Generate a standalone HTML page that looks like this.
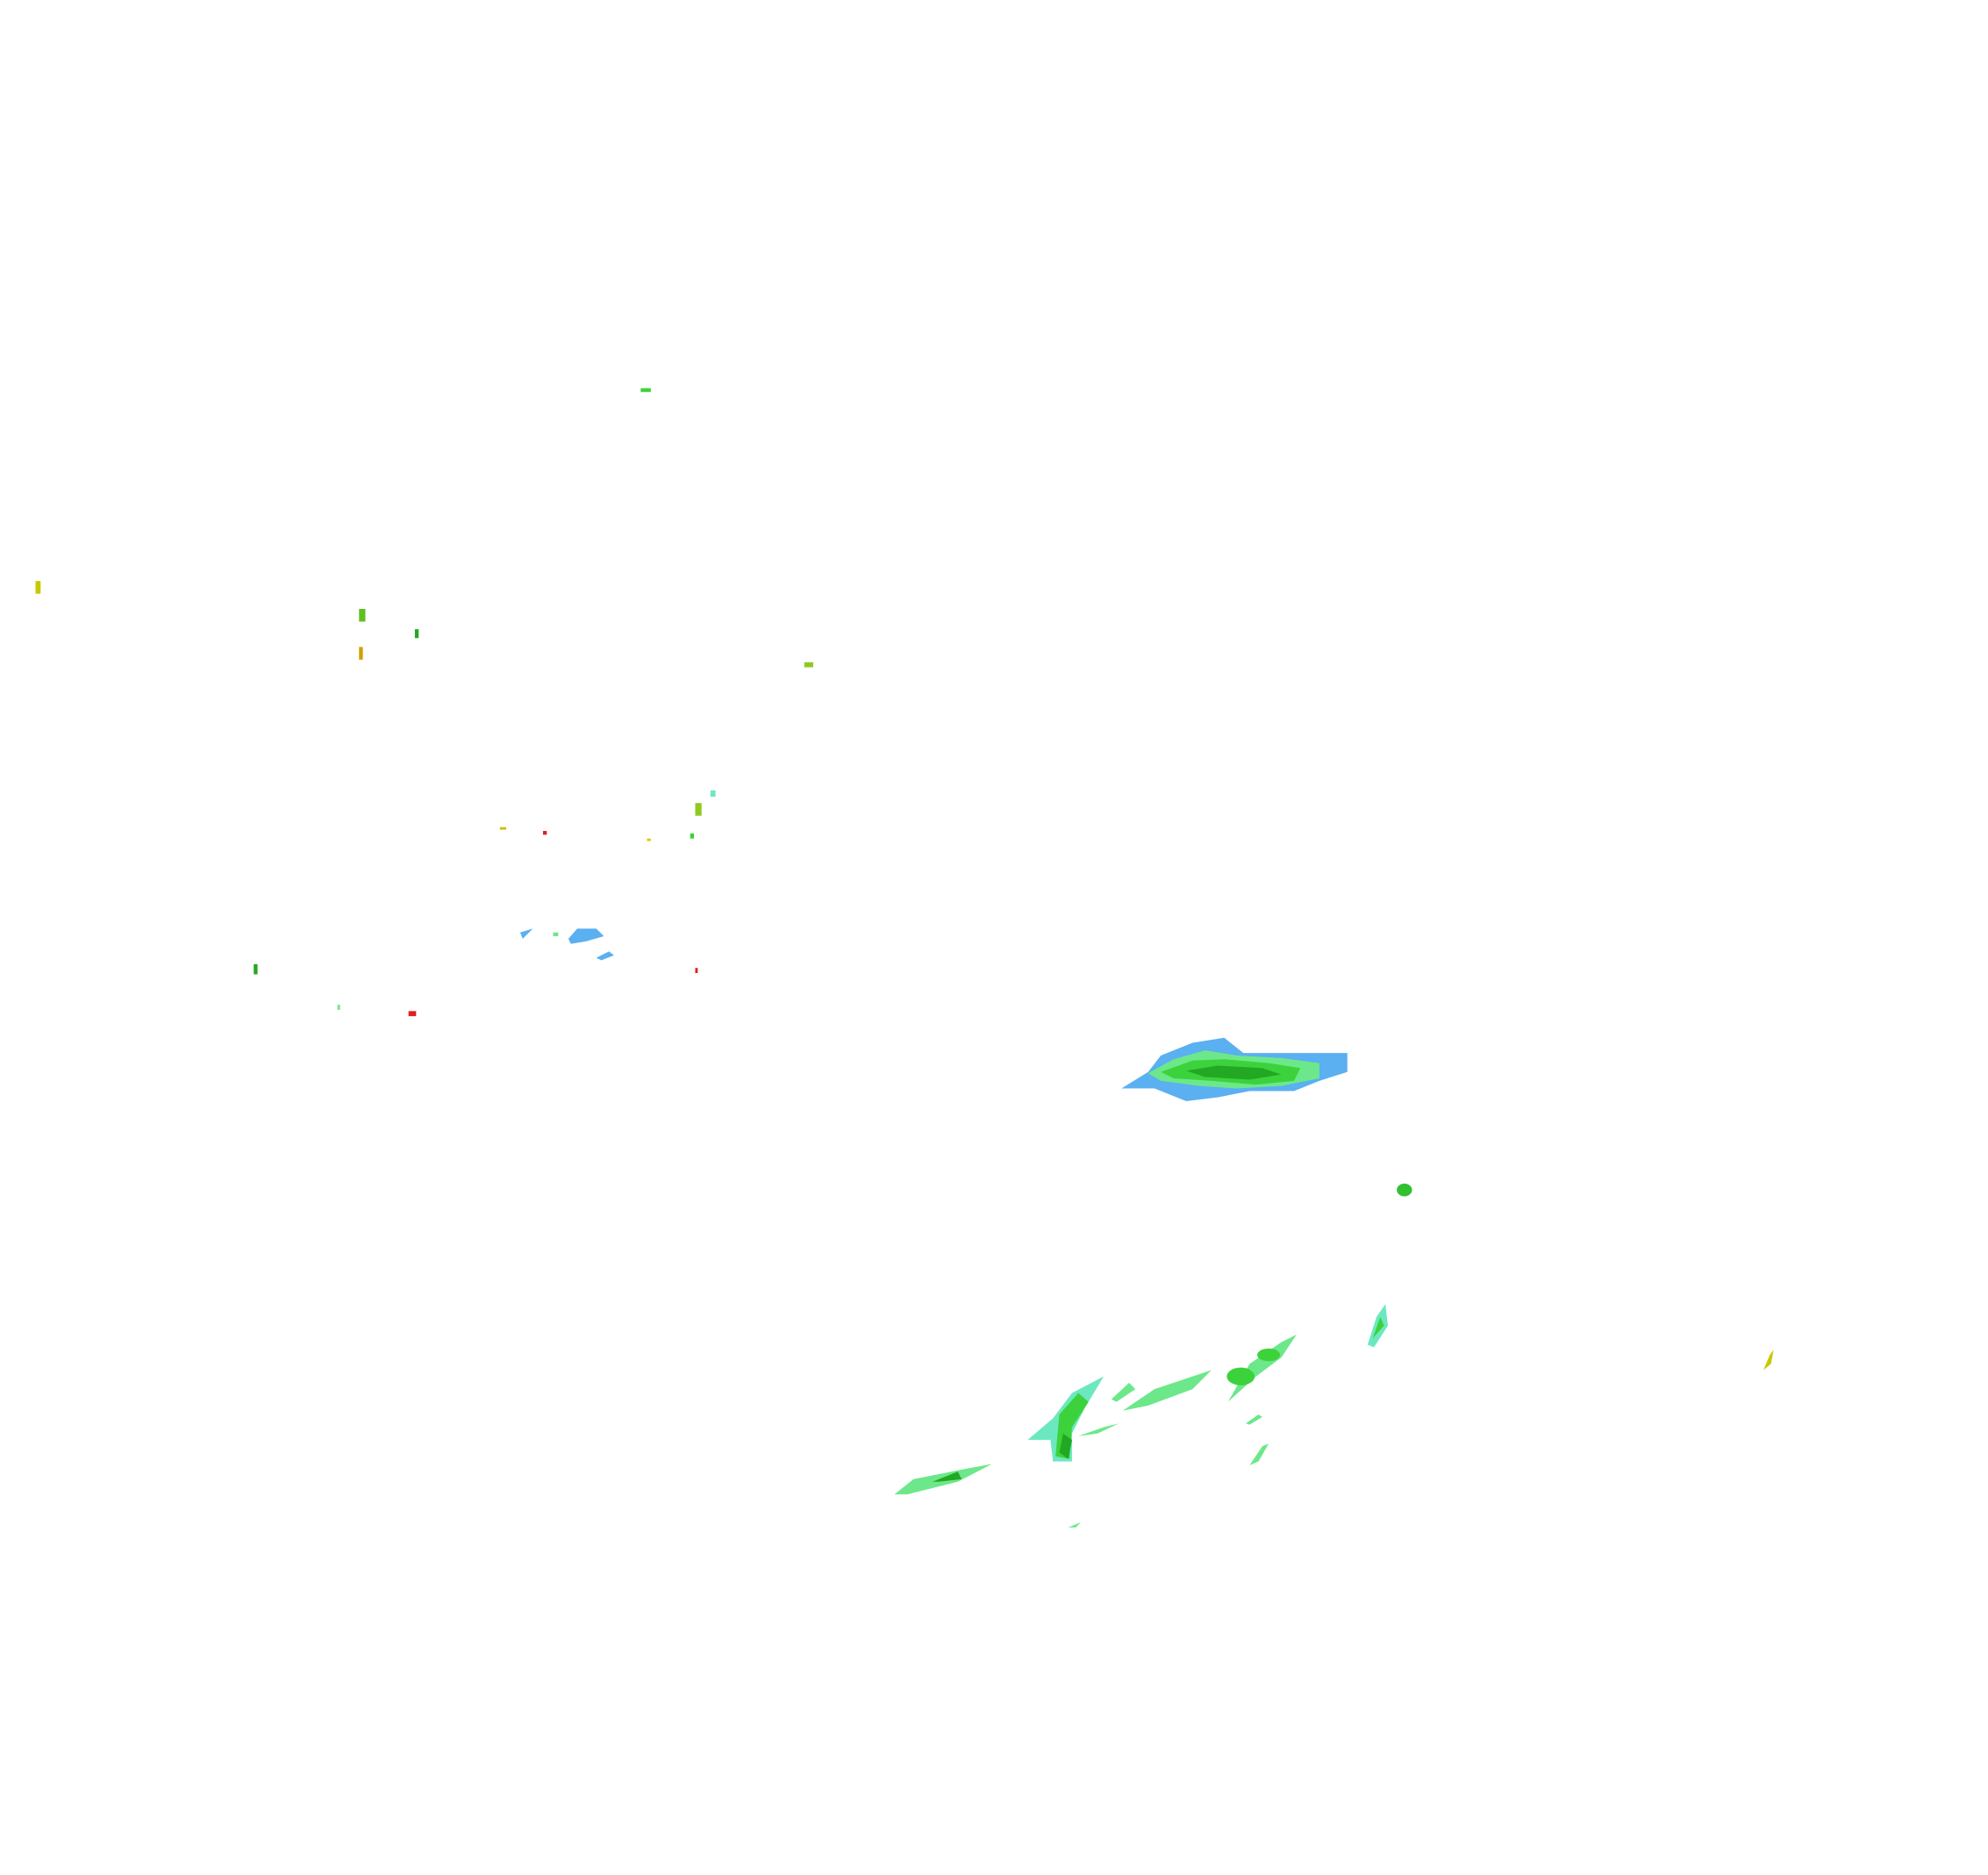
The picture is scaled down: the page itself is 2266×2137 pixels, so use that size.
<!DOCTYPE html>
<html><head><meta charset="utf-8"><style>html,body{margin:0;padding:0;background:#fff}svg{display:block}</style></head>
<body>
<svg width="2266" height="2137" viewBox="0 0 1567 1478" preserveAspectRatio="none" xmlns="http://www.w3.org/2000/svg">
<rect width="1567" height="1478" fill="#fff"/>
<g>
<path d="M884,858 L905,845 L915,832 L940,822 L965,818 L980,830 L1020,830 L1062,830 L1062,845 L1040,852 L1020,860 L985,860 L960,865 L935,868 L910,858 Z" fill="#5ab0f0"/>
<path d="M905,846 L925,835 L950,828 L975,832 L1010,834 L1040,838 L1040,850 L1010,856 L975,858 L945,856 L915,852 Z" fill="#6ce88a"/>
<path d="M915,845 L940,836 L965,835 L1000,838 L1025,842 L1020,852 L990,855 L955,852 L925,850 Z" fill="#3cd23c"/>
<path d="M935,844 L960,840 L995,842 L1010,847 L985,851 L950,849 Z" fill="#22a822"/>
</g>
<ellipse cx="1107" cy="938" rx="6" ry="5" fill="#30c030"/>
<path d="M1078,1060 L1085,1038 L1092,1028 L1094,1045 L1083,1062 Z" fill="#6ce8c0"/>
<path d="M1082,1055 L1088,1038 L1091,1045 Z" fill="#3cd23c"/>
<path d="M968,1105 L985,1075 L1010,1058 L1022,1052 L1010,1070 L990,1085 Z" fill="#6ce88a"/>
<ellipse cx="978" cy="1085" rx="11" ry="7" fill="#3cd23c"/>
<ellipse cx="1000" cy="1068" rx="9" ry="5" fill="#3cd23c"/>
<path d="M885,1112 L910,1095 L955,1080 L940,1095 L905,1108 Z" fill="#6ce88a"/>
<path d="M876,1103 L890,1090 L895,1095 L880,1105 Z" fill="#6ce88a"/>
<path d="M810,1135 L830,1118 L845,1098 L870,1085 L855,1110 L845,1130 L845,1152 L830,1152 L828,1135 Z" fill="#6ce8c0"/>
<path d="M832,1148 L835,1115 L850,1098 L858,1105 L845,1125 L843,1150 Z" fill="#3cd23c"/>
<path d="M835,1145 L838,1130 L845,1135 L842,1150 Z" fill="#22a822"/>
<path d="M850,1132 L870,1125 L882,1122 L865,1130 Z" fill="#6ce88a"/>
<path d="M705,1178 L720,1166 L760,1158 L782,1154 L755,1168 L715,1178 Z" fill="#6ce88a"/>
<path d="M735,1168 L755,1160 L758,1166 L740,1168 Z" fill="#22a822"/>
<path d="M985,1155 L995,1140 L1000,1138 L992,1152 Z" fill="#6ce88a"/>
<path d="M982,1122 L992,1115 L995,1117 L985,1123 Z" fill="#6ce88a"/>
<path d="M842,1204 L852,1200 L848,1204 Z" fill="#6ce88a"/>
<path d="M1390,1080 L1395,1068 L1398,1064 L1396,1075 Z" fill="#c8c800"/>
<path d="M410,735 L420,732 L412,740 Z" fill="#5ab0f0"/>
<path d="M448,740 L455,732 L470,732 L476,738 L462,742 L450,744 Z" fill="#5ab0f0"/>
<path d="M470,755 L480,750 L484,753 L474,757 Z" fill="#5ab0f0"/>
<rect x="436" y="735" width="4" height="3" fill="#6ce88a"/>
<rect x="548" y="633" width="5" height="10" fill="#90c820"/>
<rect x="560" y="623" width="4" height="5" fill="#6ce8c0"/>
<rect x="544" y="657" width="3" height="4" fill="#3cd23c"/>
<rect x="505" y="306" width="8" height="3" fill="#3cd23c"/>
<rect x="634" y="522" width="7" height="4" fill="#90c820"/>
<rect x="283" y="480" width="5" height="10" fill="#60c020"/>
<rect x="283" y="510" width="3" height="10" fill="#d0a000"/>
<rect x="327" y="496" width="3" height="7" fill="#22a822"/>
<rect x="28" y="458" width="4" height="10" fill="#c8c800"/>
<rect x="394" y="652" width="5" height="2" fill="#d0c000"/>
<rect x="428" y="655" width="3" height="3" fill="#e02020"/>
<rect x="510" y="661" width="3" height="2" fill="#d0d000"/>
<rect x="200" y="760" width="3" height="8" fill="#22a822"/>
<rect x="266" y="792" width="2" height="4" fill="#6ce88a"/>
<rect x="322" y="797" width="6" height="4" fill="#e02020"/>
<rect x="548" y="763" width="2" height="4" fill="#e02020"/>
</svg>
</body></html>
